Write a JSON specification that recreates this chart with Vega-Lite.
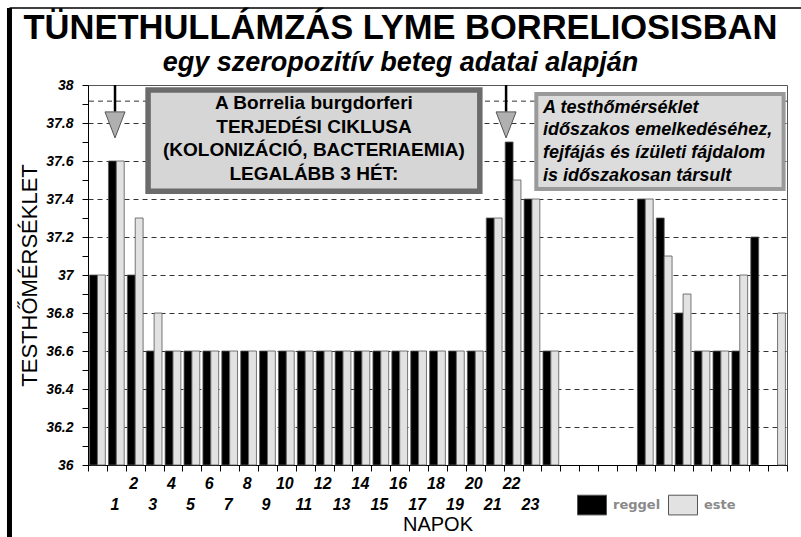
{
  "$schema": "https://vega.github.io/schema/vega-lite/v6.json",
  "width": 699,
  "height": 380,
  "autosize": "none",
  "padding": {"left": 88, "top": 85, "right": 14, "bottom": 72},
  "background": "white",
  "config": {"view": {"stroke": "#555", "strokeWidth": 1}, "font": "Liberation Sans"},
  "title": {
    "text": "TÜNETHULLÁMZÁS  LYME  BORRELIOSISBAN",
    "subtitle": "egy szeropozitív beteg adatai alapján",
    "anchor": "middle",
    "frame": "group",
    "dx": -37,
    "offset": -71,
    "font": "Liberation Sans",
    "fontSize": 34.5,
    "fontWeight": "bold",
    "color": "#000",
    "subtitleFont": "Liberation Sans",
    "subtitleFontSize": 27,
    "subtitleFontWeight": "bold",
    "subtitleFontStyle": "italic",
    "subtitleColor": "#000",
    "subtitlePadding": 3
  },
  "datasets": {
    "temp": [
      {"nap": 0, "napszak": "reggel", "fok": 37.0}, {"nap": 0, "napszak": "este", "fok": 37.0},
      {"nap": 1, "napszak": "reggel", "fok": 37.6}, {"nap": 1, "napszak": "este", "fok": 37.6},
      {"nap": 2, "napszak": "reggel", "fok": 37.0}, {"nap": 2, "napszak": "este", "fok": 37.3},
      {"nap": 3, "napszak": "reggel", "fok": 36.6}, {"nap": 3, "napszak": "este", "fok": 36.8},
      {"nap": 4, "napszak": "reggel", "fok": 36.6}, {"nap": 4, "napszak": "este", "fok": 36.6},
      {"nap": 5, "napszak": "reggel", "fok": 36.6}, {"nap": 5, "napszak": "este", "fok": 36.6},
      {"nap": 6, "napszak": "reggel", "fok": 36.6}, {"nap": 6, "napszak": "este", "fok": 36.6},
      {"nap": 7, "napszak": "reggel", "fok": 36.6}, {"nap": 7, "napszak": "este", "fok": 36.6},
      {"nap": 8, "napszak": "reggel", "fok": 36.6}, {"nap": 8, "napszak": "este", "fok": 36.6},
      {"nap": 9, "napszak": "reggel", "fok": 36.6}, {"nap": 9, "napszak": "este", "fok": 36.6},
      {"nap": 10, "napszak": "reggel", "fok": 36.6}, {"nap": 10, "napszak": "este", "fok": 36.6},
      {"nap": 11, "napszak": "reggel", "fok": 36.6}, {"nap": 11, "napszak": "este", "fok": 36.6},
      {"nap": 12, "napszak": "reggel", "fok": 36.6}, {"nap": 12, "napszak": "este", "fok": 36.6},
      {"nap": 13, "napszak": "reggel", "fok": 36.6}, {"nap": 13, "napszak": "este", "fok": 36.6},
      {"nap": 14, "napszak": "reggel", "fok": 36.6}, {"nap": 14, "napszak": "este", "fok": 36.6},
      {"nap": 15, "napszak": "reggel", "fok": 36.6}, {"nap": 15, "napszak": "este", "fok": 36.6},
      {"nap": 16, "napszak": "reggel", "fok": 36.6}, {"nap": 16, "napszak": "este", "fok": 36.6},
      {"nap": 17, "napszak": "reggel", "fok": 36.6}, {"nap": 17, "napszak": "este", "fok": 36.6},
      {"nap": 18, "napszak": "reggel", "fok": 36.6}, {"nap": 18, "napszak": "este", "fok": 36.6},
      {"nap": 19, "napszak": "reggel", "fok": 36.6}, {"nap": 19, "napszak": "este", "fok": 36.6},
      {"nap": 20, "napszak": "reggel", "fok": 36.6}, {"nap": 20, "napszak": "este", "fok": 36.6},
      {"nap": 21, "napszak": "reggel", "fok": 37.3}, {"nap": 21, "napszak": "este", "fok": 37.3},
      {"nap": 22, "napszak": "reggel", "fok": 37.7}, {"nap": 22, "napszak": "este", "fok": 37.5},
      {"nap": 23, "napszak": "reggel", "fok": 37.4}, {"nap": 23, "napszak": "este", "fok": 37.4},
      {"nap": 24, "napszak": "reggel", "fok": 36.6}, {"nap": 24, "napszak": "este", "fok": 36.6},
      {"nap": 29, "napszak": "reggel", "fok": 37.4}, {"nap": 29, "napszak": "este", "fok": 37.4},
      {"nap": 30, "napszak": "reggel", "fok": 37.3}, {"nap": 30, "napszak": "este", "fok": 37.1},
      {"nap": 31, "napszak": "reggel", "fok": 36.8}, {"nap": 31, "napszak": "este", "fok": 36.9},
      {"nap": 32, "napszak": "reggel", "fok": 36.6}, {"nap": 32, "napszak": "este", "fok": 36.6},
      {"nap": 33, "napszak": "reggel", "fok": 36.6}, {"nap": 33, "napszak": "este", "fok": 36.6},
      {"nap": 34, "napszak": "reggel", "fok": 36.6}, {"nap": 34, "napszak": "este", "fok": 37.0},
      {"nap": 35, "napszak": "reggel", "fok": 37.2},
      {"nap": 36, "napszak": "este", "fok": 36.8}
    ],
    "arrows": [{"pos": 1.43}, {"pos": 22.13}],
    "box1": [{"x1": 3.18, "x2": 20.74, "y1": 37.974, "y2": 37.441, "cx": 11.96, "cy": 37.905, "szoveg": "A Borrelia burgdorferi\nTERJEDÉSI CIKLUSA\n(KOLONIZÁCIÓ, BACTERIAEMIA)\nLEGALÁBB 3 HÉT:"}],
    "box2": [{"x1": 23.73, "x2": 36.82, "y1": 37.953, "y2": 37.453, "cx": 24.09, "cy": 37.88, "szoveg": "A testhőmérséklet\nidőszakos emelkedéséhez,\nfejfájás és ízületi fájdalom\nis időszakosan társult"}]
  },
  "layer": [
    {
      "data": {"name": "temp"},
      "mark": {"type": "bar", "stroke": "#555", "strokeWidth": 0.8},
      "encoding": {
        "x": {
          "field": "nap",
          "type": "ordinal",
          "scale": {"domain": [0,1,2,3,4,5,6,7,8,9,10,11,12,13,14,15,16,17,18,19,20,21,22,23,24,25,26,27,28,29,30,31,32,33,34,35,36], "paddingInner": 0, "paddingOuter": 0},
          "axis": {
            "title": "NAPOK",
            "titleFont": "Liberation Sans",
            "titleFontSize": 20,
            "titleFontWeight": "normal",
            "titleColor": "#000",
            "titlePadding": 2,
            "labelExpr": "datum.value >= 1 && datum.value <= 23 ? (datum.value % 2 == 0 ? ['' + datum.value] : ['', '' + datum.value]) : ''",
            "labelAngle": 0,
            "labelFont": "Liberation Sans",
            "labelFontSize": 16,
            "labelFontWeight": "bold",
            "labelFontStyle": "italic",
            "labelColor": "#000",
            "labelLineHeight": 21,
            "labelBaseline": "top",
            "labelPadding": 4,
            "labelOffset": -2,
            "labelOverlap": false,
            "tickBand": "extent",
            "tickSize": 6,
            "tickColor": "#000",
            "domainColor": "#000",
            "grid": false
          }
        },
        "xOffset": {"field": "napszak", "type": "nominal", "scale": {"domain": ["reggel", "este"], "paddingOuter": 0.2, "paddingInner": 0}},
        "y": {
          "field": "fok",
          "type": "quantitative",
          "scale": {"domain": [36, 38], "zero": false, "nice": false},
          "axis": {
            "title": "TESTHŐMÉRSÉKLET",
            "titleFont": "Liberation Sans",
            "titleFontSize": 22,
            "titleFontWeight": "normal",
            "titleColor": "#000",
            "titlePadding": 4,
            "values": [36, 36.1, 36.2, 36.3, 36.4, 36.5, 36.6, 36.7, 36.8, 36.9, 37, 37.1, 37.2, 37.3, 37.4, 37.5, 37.6, 37.7, 37.8, 37.9, 38],
            "labelExpr": "round(datum.value * 10) % 2 == 0 ? format(datum.value, '.1~f') : ''",
            "labelFont": "Liberation Sans",
            "labelFontSize": 14,
            "labelFontWeight": "bold",
            "labelFontStyle": "italic",
            "labelColor": "#000",
            "labelPadding": 9,
            "labelOverlap": false,
            "tickSize": 6,
            "tickColor": "#000",
            "domainColor": "#000",
            "grid": true,
            "gridColor": "#333",
            "gridDash": [5, 4],
            "gridWidth": 1,
            "gridOpacity": {"condition": {"test": "round(datum.value * 10) % 2 == 1 || datum.value >= 38 || datum.value <= 36", "value": 0}, "value": 1}
          }
        },
        "y2": {"datum": 36},
        "color": {
          "field": "napszak",
          "type": "nominal",
          "scale": {"domain": ["reggel", "este"], "range": ["#000000", "#e2e2e2"]},
          "legend": {
            "orient": "none",
            "legendX": 489,
            "legendY": 405,
            "direction": "horizontal",
            "title": null,
            "symbolType": "M-1,-0.68H1V0.68H-1Z",
            "symbolSize": 841,
            "symbolStrokeColor": "#555",
            "symbolStrokeWidth": 1,
            "symbolOpacity": 1,
            "labelFont": "DejaVu Sans",
            "labelFontSize": 13,
            "labelFontWeight": "bold",
            "labelColor": "#8a8a8a",
            "labelOffset": 6,
            "columnPadding": 5,
            "padding": 0
          }
        }
      }
    },
    {
      "layer": [
        {
          "data": {"values": [{"v": 37.915}]},
          "mark": {"type": "rule", "color": "#333", "strokeDash": [5, 4], "strokeWidth": 1},
          "encoding": {"y": {"field": "v", "type": "quantitative", "scale": {"domain": [36, 38]}, "axis": null}}
        },
        {
          "data": {"name": "box1"},
          "mark": {"type": "rect", "fill": "#d6d6d6", "stroke": "#6b6b6b", "strokeWidth": 5.5},
          "encoding": {
            "x": {"field": "x1", "type": "quantitative", "scale": {"domain": [0, 37]}, "axis": null},
            "x2": {"field": "x2"},
            "y": {"field": "y1", "type": "quantitative", "scale": {"domain": [36, 38]}, "axis": null},
            "y2": {"field": "y2"}
          }
        },
        {
          "data": {"name": "box1"},
          "mark": {"type": "text", "align": "center", "baseline": "middle", "fontSize": 19, "fontWeight": "bold", "font": "Liberation Sans", "lineHeight": 23.5, "lineBreak": "\n", "color": "#000"},
          "encoding": {
            "x": {"field": "cx", "type": "quantitative", "scale": {"domain": [0, 37]}, "axis": null},
            "y": {"field": "cy", "type": "quantitative", "scale": {"domain": [36, 38]}, "axis": null},
            "text": {"field": "szoveg", "type": "nominal"}
          }
        },
        {
          "data": {"name": "box2"},
          "mark": {"type": "rect", "fill": "#dcdcdc", "stroke": "#9a9a9a", "strokeWidth": 4},
          "encoding": {
            "x": {"field": "x1", "type": "quantitative", "scale": {"domain": [0, 37]}, "axis": null},
            "x2": {"field": "x2"},
            "y": {"field": "y1", "type": "quantitative", "scale": {"domain": [36, 38]}, "axis": null},
            "y2": {"field": "y2"}
          }
        },
        {
          "data": {"name": "box2"},
          "mark": {"type": "text", "align": "left", "baseline": "middle", "fontSize": 18, "fontWeight": "bold", "fontStyle": "italic", "font": "Liberation Sans", "lineHeight": 22.7, "lineBreak": "\n", "color": "#000"},
          "encoding": {
            "x": {"field": "cx", "type": "quantitative", "scale": {"domain": [0, 37]}, "axis": null},
            "y": {"field": "cy", "type": "quantitative", "scale": {"domain": [36, 38]}, "axis": null},
            "text": {"field": "szoveg", "type": "nominal"}
          }
        },
        {
          "data": {"name": "arrows"},
          "mark": {"type": "rule", "color": "#000", "strokeWidth": 2.5},
          "encoding": {
            "x": {"field": "pos", "type": "quantitative", "scale": {"domain": [0, 37]}, "axis": null},
            "y": {"datum": 38, "type": "quantitative", "scale": {"domain": [36, 38]}, "axis": null},
            "y2": {"datum": 37.86}
          }
        },
        {
          "data": {"name": "arrows"},
          "mark": {"type": "point", "shape": "M-1,-1.3L1,-1.3L0,1.3Z", "size": 400, "filled": true, "fill": "#b0b0b0", "stroke": "#555", "strokeWidth": 1, "opacity": 1},
          "encoding": {
            "x": {"field": "pos", "type": "quantitative", "scale": {"domain": [0, 37]}, "axis": null},
            "y": {"datum": 37.79, "type": "quantitative", "scale": {"domain": [36, 38]}, "axis": null}
          }
        },
        {
          "data": {"values": [{"x": -4.156, "ya": 38.405, "yb": 35.6}]},
          "mark": {"type": "rule", "color": "#000", "strokeWidth": 5},
          "encoding": {
            "x": {"field": "x", "type": "quantitative", "scale": {"domain": [0, 37]}, "axis": null},
            "y": {"field": "ya", "type": "quantitative", "scale": {"domain": [36, 38]}, "axis": null},
            "y2": {"field": "yb"}
          }
        },
        {
          "data": {"values": [{"xa": -4.156, "xb": 37.8, "y": 38.405}]},
          "mark": {"type": "rule", "color": "#000", "strokeWidth": 1.5},
          "encoding": {
            "x": {"field": "xa", "type": "quantitative", "scale": {"domain": [0, 37]}, "axis": null},
            "x2": {"field": "xb"},
            "y": {"field": "y", "type": "quantitative", "scale": {"domain": [36, 38]}, "axis": null}
          }
        }
      ]
    }
  ],
  "resolve": {"scale": {"x": "independent"}, "axis": {"y": "independent"}}
}
